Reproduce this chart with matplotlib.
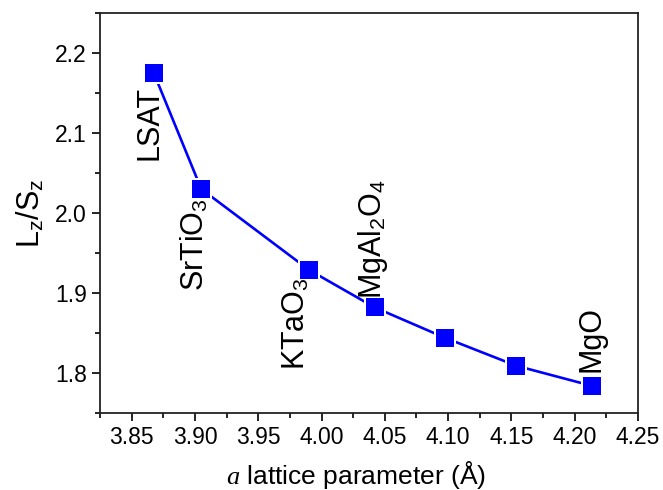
import numpy as np
import matplotlib
matplotlib.use('Agg')
import matplotlib.pyplot as plt
from matplotlib.ticker import MultipleLocator

plt.rcParams['font.family'] = ['Liberation Sans', 'DejaVu Sans']
plt.rcParams['mathtext.fontset'] = 'custom'
plt.rcParams['mathtext.rm'] = 'Liberation Sans'
plt.rcParams['mathtext.it'] = 'Liberation Serif:italic'

# lattice parameter (A) and Lz/Sz
a_param = [3.8675, 3.905, 3.990, 4.042, 4.0976, 4.154, 4.2135]
ratio = [2.175, 2.030, 1.929, 1.882, 1.844, 1.809, 1.784]

# substrate labels and where they sit
sub_names = ['LSAT', r'SrTiO$_3$', r'KTaO$_3$', r'MgAl$_2$O$_4$', 'MgO']
sub_x = [3.8643, 3.900, 3.980, 4.0405, 4.2135]
sub_y = [2.113, 1.960, 1.862, 1.967, 1.842]

blue = '#0000ff'

fig = plt.figure(figsize=(6.63, 4.9), dpi=100)
ax = fig.add_axes([0.1508, 0.1571, 0.8115, 0.8164])

ax.plot(a_param, ratio, '-', color=blue, lw=1.9, zorder=2)
ax.plot(a_param, ratio, 's', color='white', ms=15.5, mew=0, zorder=3)
ax.plot(a_param, ratio, 's', color=blue, ms=12.6, mew=0, zorder=4)

for name, tx, ty in zip(sub_names, sub_x, sub_y):
    ax.text(tx, ty, name, rotation=90, ha='center', va='center', fontsize=22)

ax.set_xlim(3.825, 4.25)
ax.set_ylim(1.75, 2.25)
ax.xaxis.set_major_locator(MultipleLocator(0.05))
ax.xaxis.set_minor_locator(MultipleLocator(0.025))
ax.yaxis.set_major_locator(MultipleLocator(0.1))
ax.yaxis.set_minor_locator(MultipleLocator(0.05))
ax.xaxis.set_major_formatter(matplotlib.ticker.FormatStrFormatter('%.2f'))
ax.yaxis.set_major_formatter(matplotlib.ticker.FormatStrFormatter('%.1f'))

for s in ax.spines.values():
    s.set_linewidth(1.3)
    s.set_color('#222222')
ax.tick_params(which='both', direction='out', width=1.2, labelsize=16.5, top=False, right=False)
ax.tick_params(which='major', length=6)
ax.tick_params(which='minor', length=3.5)

ax.set_xlabel(r'$a$ lattice parameter (Å)', fontsize=19)
ax.xaxis.set_label_coords(0.476, -0.115)
ax.set_ylabel(r'L$_\mathrm{z}$/S$_\mathrm{z}$', fontsize=22, labelpad=6)

fig.savefig('out.png', dpi=100)
